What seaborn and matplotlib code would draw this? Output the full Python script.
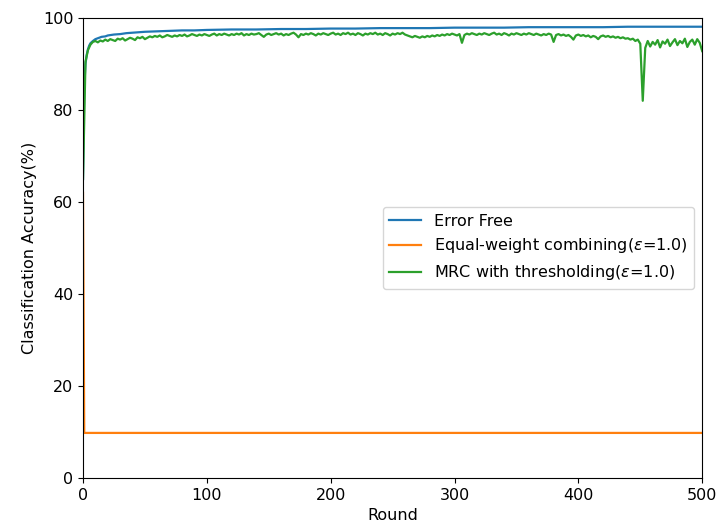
import numpy as np
import pandas as pd
import matplotlib
matplotlib.use("Agg")
import matplotlib.pyplot as plt
import seaborn as sns

plt.rcParams["font.size"] = 11.5

# --- data ---
labels = ["Error Free",
          r"Equal-weight combining($\epsilon$=1.0)",
          r"MRC with thresholding($\epsilon$=1.0)"]
colors = ["#1f77b4", "#ff7f0e", "#2ca02c"]

free_rounds = [0, 1, 2, 3, 4, 5, 6, 8, 10, 12, 15, 18, 20, 25, 30, 35, 40, 45, 50,
               60, 70, 80, 90, 100, 120, 140, 160, 180, 200, 220, 240, 260, 280,
               300, 320, 340, 360, 380, 400, 420, 440, 460, 480, 500]
free_acc = [65.0, 85.0, 90.0, 92.0, 93.2, 94.0, 94.5, 95.0, 95.4, 95.6, 95.9, 96.0,
            96.2, 96.4, 96.5, 96.7, 96.8, 96.9, 97.0, 97.1, 97.2, 97.3, 97.3, 97.4,
            97.5, 97.5, 97.6, 97.6, 97.7, 97.7, 97.8, 97.8, 97.8, 97.9, 97.9, 97.9,
            98.0, 98.0, 98.0, 98.0, 98.1, 98.1, 98.1, 98.1]

equal_rounds = [0, 1, 500]
equal_acc = [62.0, 9.8, 9.8]

mrc_rounds = list(range(0, 501, 2))
mrc_acc = [
    65.0, 90.5, 93.0, 94.2, 94.8, 95.0, 94.7, 95.1, 94.9, 95.3,
    95.0, 95.4, 95.2, 95.0, 95.5, 95.3, 95.6, 95.1, 95.4, 95.7,
    95.5, 95.2, 95.8, 95.6, 95.9, 95.4, 95.7, 96.0, 95.8, 96.1,
    95.9, 96.2, 95.8, 96.0, 96.3, 96.1, 95.9, 96.2, 96.0, 96.3,
    96.1, 96.4, 96.0, 96.2, 96.5, 96.3, 96.1, 96.4, 96.2, 96.5,
    96.3, 96.1, 96.4, 96.6, 96.2, 96.5, 96.3, 96.6, 96.4, 96.2,
    96.5, 96.3, 96.6, 96.4, 96.7, 96.2, 96.5, 96.3, 96.6, 96.4,
    96.5, 96.7, 96.3, 95.9, 96.4, 96.6, 96.3, 96.5, 96.7, 96.4,
    96.6, 96.2, 96.5, 96.3, 96.6, 96.8, 96.4, 95.8, 96.5, 96.3,
    96.6, 96.4, 96.7, 96.5, 96.2, 96.6, 96.4, 96.7, 96.5, 96.3,
    96.6, 96.8, 96.4, 96.6, 96.3, 96.7, 96.5, 96.8, 96.4, 96.6,
    96.3, 96.7, 96.5, 96.2, 96.6, 96.4, 96.7, 96.5, 96.8, 96.4,
    96.6, 96.3, 96.7, 96.5, 96.2, 96.6, 96.4, 96.7, 96.5, 96.8,
    96.4, 96.2, 96.0, 95.8, 96.1, 95.9, 95.7, 96.0, 95.8, 96.1,
    95.9, 96.2, 96.0, 96.3, 96.1, 96.4, 96.2, 96.5, 96.3, 96.6,
    96.4, 96.2, 96.5, 94.6, 96.3, 96.6, 96.4, 96.7, 96.5, 96.3,
    96.6, 96.4, 96.7, 96.5, 96.3, 96.6, 96.8, 96.4, 96.6, 96.3,
    96.7, 96.5, 96.2, 96.6, 96.4, 96.7, 96.5, 96.3, 96.6, 96.4,
    96.7, 96.5, 96.3, 96.6, 96.4, 96.2, 96.5, 96.3, 96.6, 96.4,
    94.8, 96.3, 96.5, 96.2, 96.4, 96.1, 96.3, 95.9, 95.3, 96.2,
    96.4, 96.1, 96.3, 96.0, 96.2, 95.8, 96.1, 95.9, 95.4, 96.0,
    96.2, 95.9, 96.1, 95.8, 96.0, 95.7, 95.9, 95.6, 95.8, 95.5,
    95.6, 95.3, 95.5, 95.0, 95.3, 94.4, 82.0, 93.5, 95.0, 93.8,
    94.8, 94.2, 95.2, 93.6, 94.9, 94.4, 95.3, 93.9, 94.7, 95.4,
    94.1, 95.0, 94.5, 95.5, 93.7, 94.8, 95.3, 94.2, 95.4, 94.6,
    92.8,
]

df = pd.concat([
    pd.DataFrame({"Round": free_rounds, "acc": free_acc, "method": labels[0]}),
    pd.DataFrame({"Round": equal_rounds, "acc": equal_acc, "method": labels[1]}),
    pd.DataFrame({"Round": mrc_rounds, "acc": mrc_acc, "method": labels[2]}),
], ignore_index=True)

fig, ax = plt.subplots(figsize=(7.18, 5.29), dpi=100)
fig.subplots_adjust(left=0.1156, right=0.978, top=0.966, bottom=0.0964)

sns.lineplot(data=df, x="Round", y="acc", hue="method", hue_order=labels,
             palette=colors, estimator=None, sort=False, linewidth=1.6, ax=ax)

ax.set_xlim(0, 500)
ax.set_ylim(0, 100)
ax.set_xticks([0, 100, 200, 300, 400, 500])
ax.set_yticks([0, 20, 40, 60, 80, 100])
ax.set_xlabel("Round")
ax.set_ylabel("Classification Accuracy(%)")

handles, _ = ax.get_legend_handles_labels()
ax.legend(handles=handles, labels=labels, loc="center right")

fig.savefig("out.png", dpi=100)
